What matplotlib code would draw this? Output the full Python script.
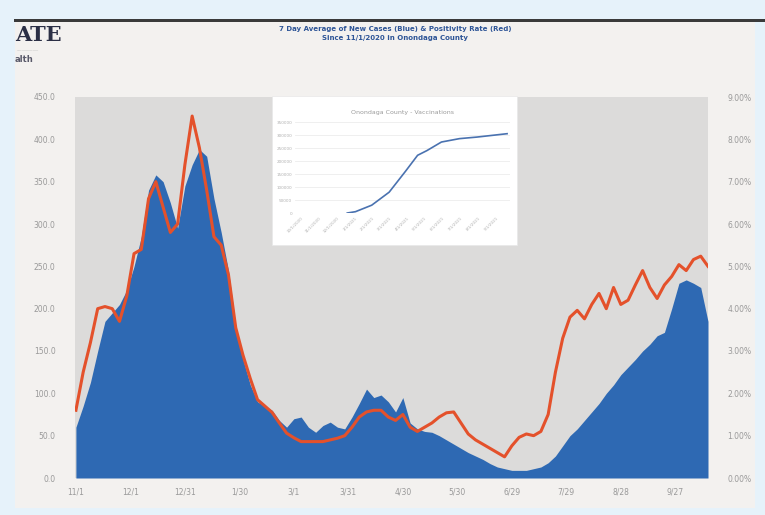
import numpy as np
import pandas as pd
import matplotlib
matplotlib.use('Agg')
import matplotlib.pyplot as plt
from matplotlib.patches import Rectangle

# 7 day average of new cases, every 4 days from 11/1/2020
cases = [60, 85, 113, 150, 185, 195, 205, 222, 250, 285, 340, 358,
         350, 325, 295, 345, 370, 388, 380, 330, 290, 245, 180, 140,
         110, 90, 85, 80, 68, 60, 70, 72, 60, 54, 62, 66,
         60, 58, 72, 88, 105, 95, 98, 90, 78, 95, 65, 58,
         55, 54, 50, 45, 40, 35, 30, 26, 22, 17, 13, 11,
         9, 9, 9, 11, 13, 18, 26, 38, 50, 58, 68, 78,
         88, 100, 110, 122, 131, 140, 150, 158, 168, 172, 200, 230,
         234, 230, 225, 185]

# positivity rate (%), same dates
positivity = [1.6, 2.5, 3.2, 4.0, 4.05, 4.0, 3.7, 4.3, 5.3, 5.4, 6.6, 7.0,
              6.4, 5.8, 6.0, 7.4, 8.55, 7.8, 6.8, 5.7, 5.5, 4.8, 3.55, 2.9,
              2.35, 1.85, 1.7, 1.55, 1.3, 1.06, 0.95, 0.86, 0.86, 0.86, 0.86, 0.9,
              0.94, 1.0, 1.2, 1.44, 1.56, 1.6, 1.6, 1.44, 1.36, 1.5, 1.2, 1.1,
              1.2, 1.3, 1.44, 1.54, 1.56, 1.3, 1.04, 0.9, 0.8, 0.7, 0.6, 0.5,
              0.76, 0.96, 1.04, 1.0, 1.1, 1.5, 2.5, 3.3, 3.8, 3.96, 3.76, 4.1,
              4.36, 4.0, 4.5, 4.1, 4.2, 4.56, 4.9, 4.5, 4.24, 4.56, 4.76, 5.04,
              4.9, 5.16, 5.24, 5.0]

tick_labels = ["11/1", "12/1", "12/31", "1/30", "3/1", "3/31", "4/30",
               "5/30", "6/29", "7/29", "8/28", "9/27"]

# inset: cumulative vaccinations
vax_dates = ["2020-12-14", "2020-12-28", "2021-01-25", "2021-02-24", "2021-03-24",
             "2021-04-14", "2021-04-30", "2021-05-25", "2021-06-25", "2021-07-25",
             "2021-09-15"]
vax_values = [0, 5000, 30000, 80000, 160000, 222000, 240000, 273000, 286000,
              292000, 305000]
vax_ticks = ["10/1/2020", "11/1/2020", "12/1/2020", "1/1/2021", "2/1/2021", "3/1/2021",
             "4/1/2021", "5/1/2021", "6/1/2021", "7/1/2021", "8/1/2021", "9/1/2021"]

days = np.arange(len(cases)) * 4
tick_days = np.arange(len(tick_labels)) * 30

fig = plt.figure(figsize=(7.65, 5.15), dpi=100)
fig.patch.set_facecolor('#e6f2fa')

# slide panel (behind everything)
fig.patches.append(Rectangle((15/765, 1-508/515), 740/765, 488/515,
                             transform=fig.transFigure, facecolor='#f3f1ef',
                             edgecolor='none', zorder=-2))
fig.patches.append(Rectangle((14/765, 1-22/515), 751/765, 3/515,
                             transform=fig.transFigure, facecolor='#3a3a3a',
                             edgecolor='none', zorder=-1))

# logo fragment
fig.text(15/765, 1-41/515, "ATE", fontsize=15, fontweight='bold',
         family='DejaVu Serif', color='#2b2f45')
fig.text(16/765, 1-49/515, "________", fontsize=4, color='#c4c4c4')
fig.text(15/765, 1-62/515, "alth", fontsize=6, fontweight='bold', color='#5a5a6a')

fig.text(395/765, 1-29/515, "7 Day Average of New Cases (Blue) & Positivity Rate (Red)",
         ha='center', va='center', fontsize=5, fontweight='bold', color='#2e5597')
fig.text(395/765, 1-38/515, "Since 11/1/2020 in Onondaga County",
         ha='center', va='center', fontsize=5, fontweight='bold', color='#2e5597')

ax = fig.add_axes([75/765, 1-478/515, 633/765, 381/515])
ax.set_facecolor('#dcdbda')
ax.fill_between(days, cases, 0, color='#2e69b3', linewidth=0)
ax.set_xlim(-0.5, 348)
ax.set_ylim(0, 450)
ax.set_yticks(np.arange(0, 451, 50))
ax.set_yticklabels(["%.1f" % v for v in np.arange(0, 451, 50)])
ax.set_xticks(tick_days)
ax.set_xticklabels(tick_labels)
for s in ax.spines.values():
    s.set_visible(False)
ax.tick_params(length=0, labelsize=5.5, colors='#999999', pad=7)
ax.tick_params(axis='y', pad=14)

ax2 = ax.twinx()
ax2.plot(days, positivity, color='#e4512b', linewidth=2.2)
ax2.set_ylim(0, 9)
ax2.set_yticks(np.arange(0, 10, 1))
ax2.set_yticklabels(["%.2f%%" % v for v in np.arange(0, 10, 1)])
for s in ax2.spines.values():
    s.set_visible(False)
ax2.tick_params(length=0, labelsize=5.5, colors='#999999', pad=14)

# inset vaccination chart
fig.patches.append(Rectangle((272/765, 1-245/515), 245/765, 149/515,
                             transform=fig.transFigure, facecolor='white',
                             edgecolor='#e8e8e8', linewidth=0.5, zorder=5))
ins = fig.add_axes([295/765, 1-213/515, 215/765, 91/515], zorder=6)
ins.set_facecolor('white')
vd = pd.to_datetime(vax_dates)
tick_dates = pd.to_datetime(vax_ticks, format="%m/%d/%Y")
ins.plot(vd, vax_values, color='#4a72b0', linewidth=1.2)
ins.set_xlim(pd.Timestamp("2020-09-15"), pd.Timestamp("2021-09-20"))
ins.set_ylim(0, 350000)
ins.set_yticks(np.arange(0, 350001, 50000))
ins.set_yticklabels([str(v) for v in np.arange(0, 350001, 50000)])
ins.set_xticks(tick_dates)
ins.set_xticklabels(vax_ticks, rotation=45, ha='right')
ins.grid(axis='y', color='#ececec', linewidth=0.6)
ins.set_axisbelow(True)
for s in ins.spines.values():
    s.set_visible(False)
ins.tick_params(length=0, labelsize=3, colors='#b0b0b0', pad=2)
ins.set_title("Onondaga County - Vaccinations", fontsize=4.5, color='#9a9a9a', pad=6)

fig.savefig("out.png", dpi=100, facecolor=fig.get_facecolor())
